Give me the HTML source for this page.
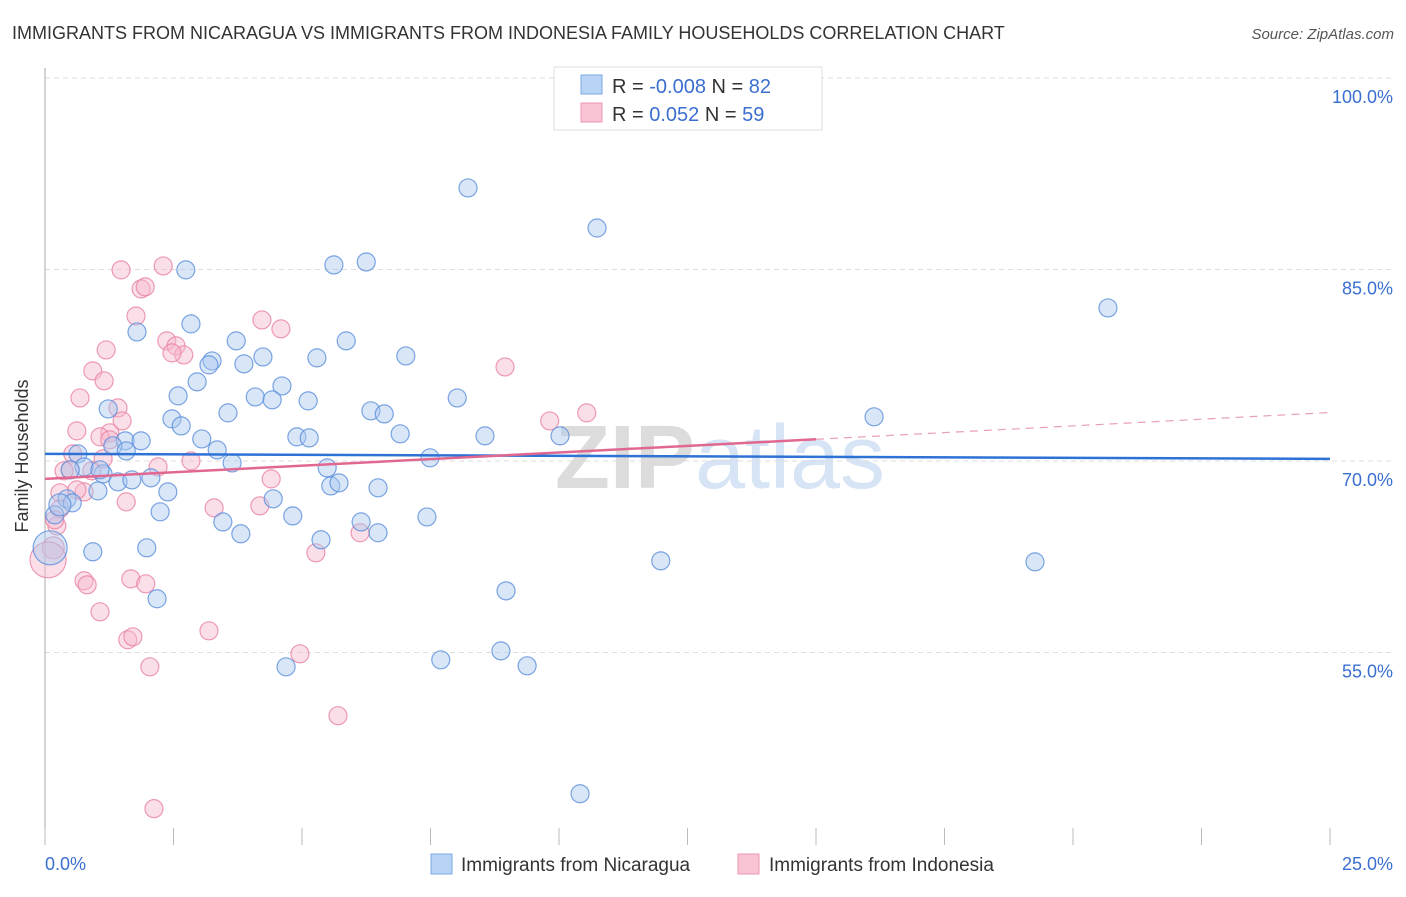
<!DOCTYPE html>
<html><head><meta charset="utf-8"><style>
body{margin:0;background:#fff;font-family:"Liberation Sans",sans-serif}
svg text{font-family:"Liberation Sans",sans-serif}
</style></head><body>
<svg id="c" width="1406" height="892" xmlns="http://www.w3.org/2000/svg">
<text x="12" y="39" font-size="18" fill="#333">IMMIGRANTS FROM NICARAGUA VS IMMIGRANTS FROM INDONESIA FAMILY HOUSEHOLDS CORRELATION CHART</text>
<text x="1394" y="39" font-size="15" fill="#555" text-anchor="end" font-style="italic">Source: ZipAtlas.com</text>
<text x="720" y="488" font-size="90" fill="#e6e6e6" text-anchor="middle" font-family="Liberation Serif"><tspan font-weight="bold" fill="#dcdcdc">ZIP</tspan><tspan fill="#d6e4f5">atlas</tspan></text>
<g id="grid"></g><g id="pts"></g><g id="lines"></g>
<text x="28" y="456" font-size="18" fill="#333" text-anchor="middle" transform="rotate(-90 28 456)">Family Households</text>
<g>
<rect x="554" y="67" width="268" height="63" fill="#fff" stroke="#ddd"/>
<rect x="581" y="75" width="21" height="19" fill="#b8d3f5" stroke="#7aa8e6"/>
<rect x="581" y="103" width="21" height="19" fill="#f9c5d5" stroke="#ee94b0"/>
<text x="612" y="93" font-size="20" fill="#333">R = <tspan fill="#3a6fd0">-0.008</tspan>   N = <tspan fill="#3a6fd0">82</tspan></text>
<text x="612" y="121" font-size="20" fill="#333">R = <tspan fill="#3a6fd0">  0.052</tspan>   N = <tspan fill="#3a6fd0">59</tspan></text>
</g>
<g>
<rect x="431" y="854" width="21" height="20" fill="#b8d3f5" stroke="#7aa8e6"/>
<text x="461" y="871" font-size="19" fill="#333">Immigrants from Nicaragua</text>
<rect x="738" y="854" width="21" height="20" fill="#f9c5d5" stroke="#ee94b0"/>
<text x="769" y="871" font-size="19" fill="#333">Immigrants from Indonesia</text>
</g>
</svg>
<script>
const yTicks=[100,85,70,55];
const yTickLabels=["100.0%","85.0%","70.0%","55.0%"];
const xTicks=[0,2.5,5,7.5,10,12.5,15,17.5,20,22.5,25];
const xEndLabels=["0.0%","25.0%"];
const blueX=[8.23,10.74,20.68,2.74,5.62,6.25,2.84,1.79,3.72,5.86,3.25,3.87,4.24,5.29,7.02,3.19,2.96,2.59,4.09,4.61,4.42,5.12,8.02,1.23,3.56,6.34,6.60,2.47,2.65,16.13,1.56,1.87,1.32,3.05,4.90,5.14,6.91,8.56,10.02,3.35,0.64,1.58,3.64,7.49,0.76,5.49,1.13,2.06,1.42,1.69,2.39,5.56,5.72,6.48,1.03,0.43,0.53,4.44,0.19,2.24,3.46,4.82,6.15,7.43,3.81,5.37,6.48,1.98,0.93,11.98,19.26,2.18,8.97,4.69,7.70,8.87,9.38,10.41,0.10,0.29,1.07,0.49];
const blueY=[91.39,88.25,81.99,84.97,85.36,85.59,80.74,80.11,79.41,79.41,77.84,77.61,78.15,78.08,78.23,77.53,76.20,75.10,75.02,75.88,74.79,74.71,74.94,74.08,73.77,73.93,73.69,73.30,72.75,73.46,71.58,71.58,71.19,71.73,71.89,71.81,72.13,71.97,71.97,70.87,70.56,70.79,69.85,70.25,69.54,69.46,68.99,68.68,68.37,68.52,67.58,68.05,68.29,67.90,67.66,67.04,66.72,67.04,65.78,66.02,65.23,65.70,65.23,65.62,64.30,63.83,64.38,63.20,62.89,62.18,62.10,59.21,59.83,53.88,54.43,55.13,53.96,43.94,63.20,66.57,69.31,69.31];
const blueR=[9,9,9,9,9,9,9,9,9,9,9,9,9,9,9,9,9,9,9,9,9,9,9,9,9,9,9,9,9,9,9,9,9,9,9,9,9,9,9,9,9,9,9,9,9,9,9,9,9,9,9,9,9,9,9,9,9,9,9,9,9,9,9,9,9,9,9,9,9,9,9,9,9,9,9,9,9,9,17,11,9,9];
const pinkX=[1.48,2.30,1.87,1.95,1.77,4.22,4.59,2.37,2.55,2.70,1.19,2.47,8.95,0.93,1.15,0.68,1.42,1.50,0.62,1.26,9.82,10.54,2.20,2.84,0.54,1.13,1.07,0.49,0.37,0.91,0.29,0.76,1.58,3.29,4.18,4.40,0.23,0.29,6.13,5.27,0.16,0.06,1.67,1.96,0.76,0.82,1.07,3.19,1.61,1.71,4.96,2.04,5.70,2.12,0.62,0.19,1.26];
const pinkY=[84.97,85.28,83.48,83.64,81.36,81.05,80.35,79.41,79.02,78.31,78.70,78.47,77.37,77.06,76.28,74.94,74.16,73.14,72.36,72.21,73.14,73.77,69.54,70.01,70.56,70.17,71.89,69.31,69.23,69.23,67.51,67.58,66.80,66.33,66.49,68.60,64.92,66.25,64.38,62.81,63.20,62.26,60.77,60.38,60.62,60.30,58.19,56.70,56.00,56.23,54.90,53.88,50.05,42.77,67.74,65.39,71.66];
const pinkR=[9,9,9,9,9,9,9,9,9,9,9,9,9,9,9,9,9,9,9,9,9,9,9,9,9,9,9,9,9,9,9,9,9,9,9,9,9,9,9,9,11,18,9,9,9,9,9,9,9,9,9,9,9,9,9,9,9];
const blueTrend=[[0,70.56],[25,70.17]];
const pinkTrendSolid=[[0,68.6],[15,71.7]];
const pinkTrendDash=[[15,71.7],[25,73.8]];
const NS="http://www.w3.org/2000/svg";
function sx(v){return 45+v*(1285/25);}
function sy(v){return 78+(100-v)*12.767;}
function mk(tag,attrs,parent){const e=document.createElementNS(NS,tag);for(const k in attrs)e.setAttribute(k,attrs[k]);parent.appendChild(e);return e;}
const svg=document.getElementById('c'),grid=document.getElementById('grid'),pts=document.getElementById('pts'),lines=document.getElementById('lines');
yTicks.forEach((t,i)=>{const l=mk('line',{x1:45,x2:1394,y1:sy(t),y2:sy(t),stroke:'#ddd','stroke-dasharray':'5,4'},grid);


const tx=mk('text',{x:1393,y:sy(t)+25,'font-size':18,fill:'#3a6fd0','text-anchor':'end'},grid);tx.textContent=yTickLabels[i];

});
const ax=mk('line',{x1:45,x2:45,y1:68,y2:845,stroke:'#aaa'},grid);


xTicks.forEach(t=>{const l=mk('line',{x1:sx(t),x2:sx(t),y1:828,y2:845,stroke:'#bbb'},grid);

});
[[0,'start',45],[25,'end',1393]].forEach((d,i)=>{const tx=mk('text',{x:d[2],y:870,'font-size':18,fill:'#3a6fd0','text-anchor':d[1]},grid);tx.textContent=xEndLabels[i];

});
function drawPts(X,Y,R,fill,stroke,name){X.forEach((x,i)=>{const c=mk('circle',{cx:sx(x),cy:sy(Y[i]),r:R[i],fill:fill,'fill-opacity':0.45,stroke:stroke,'stroke-width':1.2,'stroke-opacity':0.8},pts);

});}
drawPts(pinkX,pinkY,pinkR,'#f7b8cb','#e882a3','point-indonesia');
drawPts(blueX,blueY,blueR,'#a9c8f0','#5b8fdb','point-nicaragua');
function line(d,color,dash,name){const l=mk('line',{x1:sx(d[0][0]),y1:sy(d[0][1]),x2:sx(d[1][0]),y2:sy(d[1][1]),stroke:color,'stroke-width':dash?1.2:2.5},lines);if(dash)l.setAttribute('stroke-dasharray','8,6');

}
line(blueTrend,'#2f72d6',false,'trend-nicaragua');
line(pinkTrendSolid,'#e06890',false,'trend-indonesia');
line(pinkTrendDash,'#e8a0b8',true,'trend-indonesia-extrapolated');
</script>
</body></html>
